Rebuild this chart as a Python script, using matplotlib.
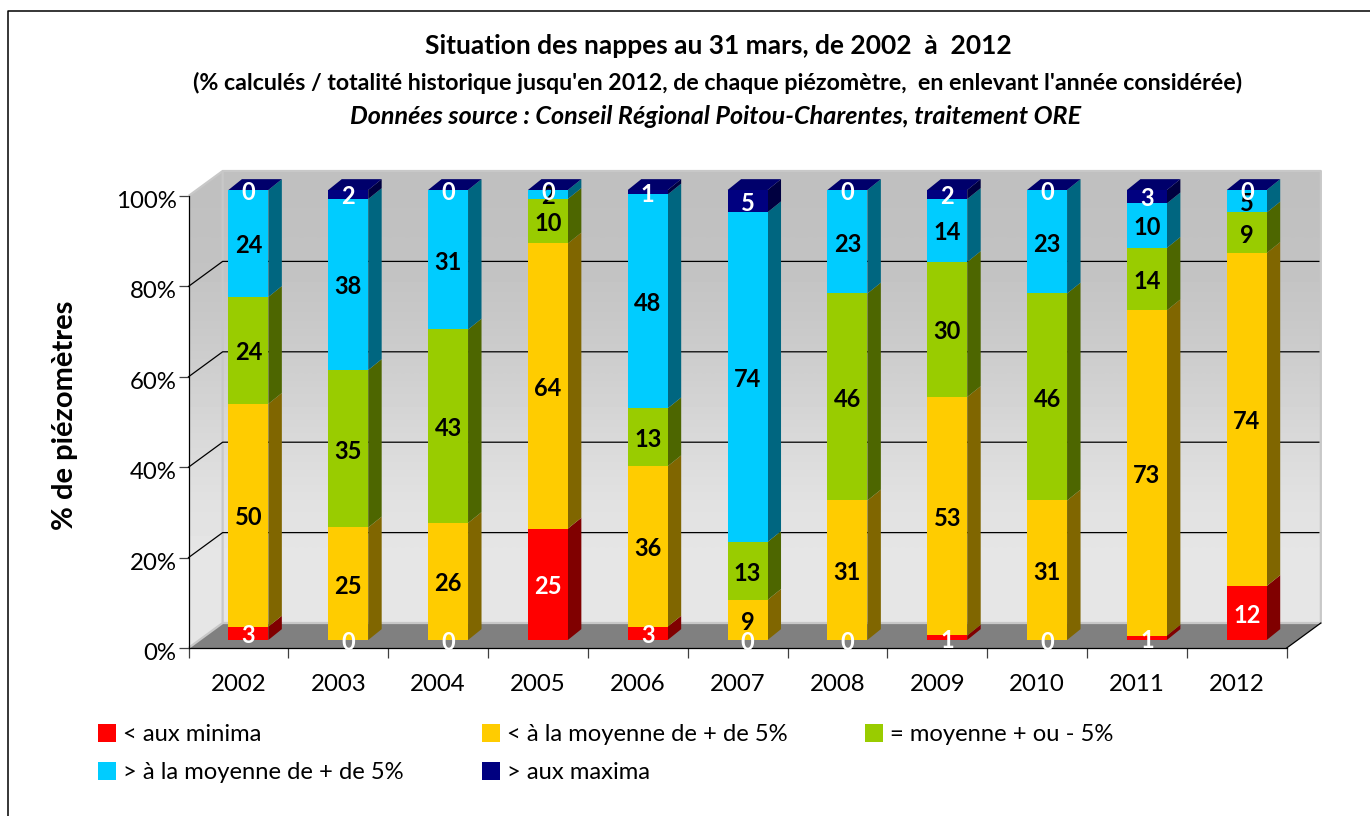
import numpy as np
import matplotlib
matplotlib.use("Agg")
import matplotlib.pyplot as plt
from matplotlib.lines import Line2D
from matplotlib.patches import Polygon
from matplotlib.transforms import ScaledTranslation

plt.rcParams['font.family'] = ['Lato', 'DejaVu Sans']

years = ['2002', '2003', '2004', '2005', '2006', '2007', '2008', '2009', '2010', '2011', '2012']
below_minima = [3, 0, 0, 25, 3, 0, 0, 1, 0, 1, 12]
below_mean = [50, 25, 26, 64, 36, 9, 31, 53, 31, 73, 74]
near_mean = [24, 35, 43, 10, 13, 13, 46, 30, 46, 14, 9]
above_mean = [24, 38, 31, 2, 48, 74, 23, 14, 23, 10, 5]
above_maxima = [0, 2, 0, 0, 1, 5, 0, 2, 0, 3, 0]
series_names = ['< aux minima', '< à la moyenne de + de 5%', '= moyenne + ou - 5%',
                '> à la moyenne de + de 5%', '> aux maxima']
front_colors = ['#FF0000', '#FFCC00', '#99CC00', '#00CCFF', '#000080']
side_colors = ['#800000', '#806600', '#4D6600', '#006680', '#000040']
label_colors = ['white', 'black', 'black', 'black', 'white']
top_color = '#00006B'
wall_greys = [0xC0, 0xC2, 0xC8, 0xD0, 0xD9, 0xE1, 0xE6, 0xE6]

W, H = 1370, 816
fig = plt.figure(figsize=(W / 100, H / 100), dpi=100, facecolor='white')
ax = fig.add_axes([188.5 / W, 1 - 648 / H, 1098.2 / W, 452 / H])
ax.set_xlim(-0.5, 10.5)
ax.set_ylim(0, 100)

WALL_DX, WALL_DY = 0.342, 5.53      # depth of the chart box
BAR_DX, BAR_DY = 0.135, 2.4         # depth of one bar
BAR_X, BAR_Y = 0.10, 1.77           # shift of the bar front from the axis plane
BAR_W = 0.40
SCALE = 450 / 452

x0, x1, top = -0.5, 10.5, 100
back = [(x0 + WALL_DX, WALL_DY), (x1 + WALL_DX, WALL_DY),
        (x1 + WALL_DX, top + WALL_DY), (x0 + WALL_DX, top + WALL_DY)]
left = [(x0, 0), (x0 + WALL_DX, WALL_DY), (x0 + WALL_DX, top + WALL_DY), (x0, top)]
floor = [(x0, 0), (x1, 0), (x1 + WALL_DX, WALL_DY), (x0 + WALL_DX, WALL_DY)]

grad = np.array(wall_greys, dtype=float)[:, None] / 255
for poly in (back, left):
    im = ax.imshow(grad, cmap='gray', vmin=0, vmax=1, aspect='auto', interpolation='bilinear',
                   extent=(x0, x1 + WALL_DX, 0, top + WALL_DY), origin='upper', zorder=1)
    patch = Polygon(poly, closed=True, transform=ax.transData, fill=False, edgecolor='none')
    ax.add_patch(patch)
    im.set_clip_box(fig.bbox)
    im.set_clip_path(patch)
ax.set_xlim(-0.5, 10.5)
ax.set_ylim(0, 100)

ax.add_patch(Polygon(floor, closed=True, facecolor='#808080', edgecolor='none', zorder=2, clip_on=False))
ax.plot([x0, x0 + WALL_DX, x0 + WALL_DX], [0, WALL_DY, top + WALL_DY], color='#C8C8C8', lw=1.6,
        zorder=2.1, clip_on=False, solid_capstyle='butt')
ax.plot([x0, x0 + WALL_DX, x1 + WALL_DX, x1 + WALL_DX, x0 + WALL_DX],
        [top, top + WALL_DY, top + WALL_DY, WALL_DY, WALL_DY], color='#C8C8C8', lw=1.6,
        zorder=2.1, clip_on=False, solid_capstyle='butt')
ax.plot([x1, x1 + WALL_DX], [0, WALL_DY], color='black', lw=0.9, zorder=2.2, clip_on=False)

for v in (20, 40, 60, 80):
    ax.plot([x0, x0 + WALL_DX, x1 + WALL_DX - 0.02], [v, v + WALL_DY, v + WALL_DY], color='black', lw=0.9,
            zorder=2.3, clip_on=False)

table = np.array([below_minima, below_mean, near_mean, above_mean, above_maxima], dtype=float)
shares = table / table.sum(axis=0) * 100 * SCALE
bottoms = np.vstack([np.zeros(len(years)), np.cumsum(shares, axis=0)[:-1]]) + BAR_Y
xs = np.arange(len(years)) + BAR_X

handles = []
for k, name in enumerate(series_names):
    bars = ax.bar(xs, shares[k], BAR_W, bottom=bottoms[k], color=front_colors[k], label=name,
                  zorder=4, linewidth=0, clip_on=False)
    handles.append(bars)
    for xc, b, h in zip(xs, bottoms[k], shares[k]):
        xr = xc + BAR_W / 2
        ax.add_patch(Polygon([(xr, b), (xr + BAR_DX, b + BAR_DY), (xr + BAR_DX, b + h + BAR_DY), (xr, b + h)],
                             closed=True, facecolor=side_colors[k], edgecolor='none', zorder=3.5, clip_on=False))
for xc in xs:
    ya = BAR_Y + 100 * SCALE
    xl, xr = xc - BAR_W / 2, xc + BAR_W / 2
    ax.add_patch(Polygon([(xl, ya), (xr, ya), (xr + BAR_DX, ya + BAR_DY), (xl + BAR_DX, ya + BAR_DY)],
                         closed=True, facecolor=top_color, edgecolor='none', zorder=4, clip_on=False))

for k in range(len(series_names)):
    for xc, b, h, v in zip(xs, bottoms[k], shares[k], table[k]):
        ax.text(xc, b + h / 2 - 0.5, f'{int(v)}', ha='center', va='center', color=label_colors[k],
                fontsize=17, fontweight='bold', zorder=6 + k, clip_on=False)

for s in ('top', 'right'):
    ax.spines[s].set_visible(False)
for s in ('left', 'bottom'):
    ax.spines[s].set_linewidth(0.9)
    ax.spines[s].set_zorder(5)
ax.patch.set_visible(False)

ax.set_yticks([0, 20, 40, 60, 80, 100], ['0%', '20%', '40%', '60%', '80%', '100%'])
ax.set_xticks(np.arange(-0.5, 11, 1), minor=False)
ax.set_xticklabels([])
ax.set_xticks(np.arange(len(years)), years, minor=True)
ax.tick_params(axis='y', length=7.5, width=0.9, labelsize=17.3, pad=1, color='#404040')
ax.tick_params(axis='x', which='major', length=7.5, width=0.9, color='#404040')
ax.tick_params(axis='x', which='minor', length=0, labelsize=17.3, pad=18.5)
shift = ScaledTranslation(0, -2.5 / 72, fig.dpi_scale_trans)
for lab in ax.get_yticklabels():
    lab.set_transform(lab.get_transform() + shift)

fig.text(65 / W, 1 - 415 / H, '% de piézomètres', rotation=90, ha='center', va='center',
         fontsize=21, fontweight='bold')
fig.text(718 / W, 1 - 46 / H, 'Situation des nappes au 31 mars, de 2002  à  2012', ha='center', va='center',
         fontsize=19, fontweight='bold')
fig.text(718 / W, 1 - 83 / H,
         "(% calculés / totalité historique jusqu'en 2012, de chaque piézomètre,  en enlevant l'année considérée)",
         ha='center', va='center', fontsize=16.7, fontweight='bold')
fig.text(716 / W, 1 - 117 / H, 'Données source : Conseil Régional Poitou-Charentes, traitement ORE',
         ha='center', va='center', fontsize=18.1, fontweight='bold', style='italic')

order = [0, 3, 1, 4, 2]
fs = 17.1
fpx = fs * 100 / 72
fig.legend([handles[i] for i in order], [series_names[i] for i in order], ncol=3, frameon=False,
           loc='upper left', bbox_to_anchor=(98 / W, 1 - 724 / H), bbox_transform=fig.transFigure,
           fontsize=fs, borderpad=0, borderaxespad=0, handlelength=18 / fpx, handleheight=18 / fpx,
           handletextpad=7 / fpx, columnspacing=78 / fpx, labelspacing=17 / fpx)

fig.add_artist(Line2D([8 / W, 8 / W, 1], [0, 1 - 11 / H, 1 - 11 / H], color='black', lw=1.1,
                      transform=fig.transFigure))
fig.savefig('out.png', dpi=100)
